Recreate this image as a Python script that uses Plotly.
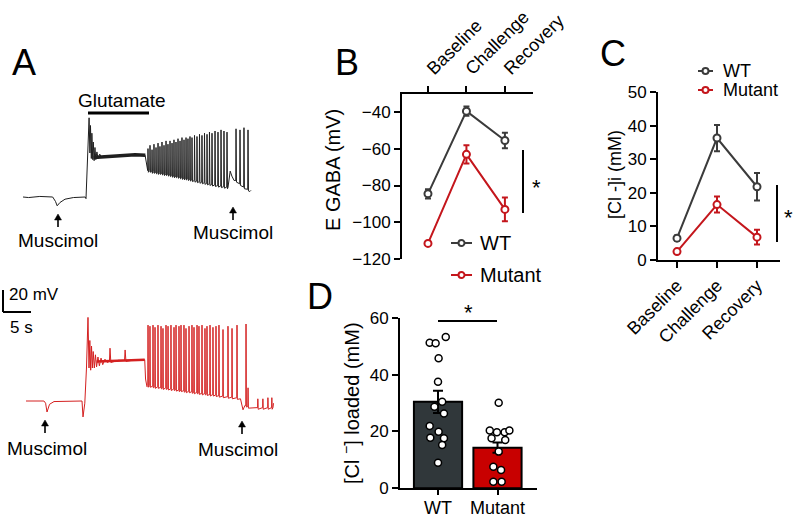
import plotly.graph_objects as go

W, H = 796, 520
FONT = "Liberation Sans, Arial, sans-serif"
WT_COL = "#3b3b3b"
MUT_COL = "#c4161c"
BAR_WT = "#30373a"
BAR_MUT = "#c80000"
TRACE_BLACK = "#1f1f1f"
TRACE_RED = "#d42020"

# ---------------- Panel A: current-clamp recordings (time in s, Vm in mV) ----------------
wt_env_t = [0, 1.0, 3.0, 5.3, 5.8, 6.1, 6.6, 7.5, 9.0, 11.1, 11.25, 11.45, 11.8, 11.95,
            12.05, 12.2, 12.3, 12.45, 12.55, 12.7, 12.85, 13.0, 13.2, 13.4, 13.7, 14.0,
            14.5, 16.0, 18.0, 20.0, 21.8, 22.0, 22.15, 36.6, 37.0, 37.3, 37.7, 40.5, 40.7]
wt_env_v = [-60, -60.5, -59.5, -60, -64, -68, -65, -62, -60.5, -60, -61.5, -40, 12, -20,
            5, -25, -2, -26, -10, -27, -15, -26, -19, -25, -21, -24,
            -22.5, -23, -22, -21.5, -22, -30, -35, -51.5, -36.5, -41, -45, -55, -54]
wt_plateau_t = [12.6, 14.0, 16.0, 18.0, 20.0, 21.85]
wt_plateau_v = [-24, -23.5, -23, -22.5, -21.5, -22]
wt_spike_t = [22.32, 22.68, 23.04, 23.39, 23.75, 24.11, 24.46, 24.82, 25.18, 25.54,
              25.89, 26.25, 26.61, 26.96, 27.32, 27.68, 28.04, 28.39, 28.75, 29.11,
              29.46, 29.82, 30.18, 30.63, 31.07, 31.52, 31.96, 32.41, 32.86, 33.30,
              33.75, 34.29, 34.82, 35.36, 35.89, 36.43, 38.04, 38.75, 39.46, 40.18]
wt_spike_peak = [-16, -13, -17, -12, -15, -11, -14, -10, -13, -9,
                 -12, -9, -11, -8, -10, -7, -9, -6, -8, -6,
                 -7, -5, -6, -4, -5, -3, -4, -2, -3, -1,
                 -2, 0, -1, 1, 0, -1, 2, 1, 3, 1]
wt_spike_base = [-36, -36, -37, -37, -37.5, -38, -38, -38.5, -39, -39,
                 -39.5, -40, -40.5, -41, -41, -41.5, -42, -42.5, -43, -43,
                 -43.5, -44, -44.5, -45, -45.5, -46, -46.5, -47, -47.5, -48,
                 -48.5, -49, -49.5, -50, -50.5, -51, -45, -48, -51, -53]

mut_env_t = [0, 3.2, 3.5, 3.75, 4.2, 5.0, 10.0, 10.18, 10.5, 10.8,
             11.07, 11.25, 11.4, 11.55, 11.7, 11.85, 12.0, 12.2, 12.4, 12.6,
             12.85, 13.1, 13.4, 13.7, 14.1, 14.5, 14.9, 15.0, 15.15, 16.5,
             17.6, 17.7, 17.85, 19.5, 21.2, 21.35, 21.6, 38.3, 38.75, 39.1,
             39.5, 44.1, 44.2]
mut_env_v = [-60, -60, -62, -70, -63, -60.5, -60, -74.5, -62, -30,
             16, -30, -5, -32, -10, -30, -15, -30, -18, -29,
             -20, -28, -21, -27, -22, -25, -24, -12, -25, -23,
             -23, -13.6, -24, -22.5, -22.5, -40, -47, -58, -68, -64,
             -65, -66, -62]
mut_plateau_t = [12.6, 15.2, 17.5, 19.5, 21.2]
mut_plateau_v = [-24, -23.5, -23, -22.5, -22.5]
mut_spike_t = [21.79, 22.14, 22.68, 23.04, 23.57, 24.11, 24.46, 25.00, 25.36, 25.89,
               26.43, 26.79, 27.32, 27.68, 28.21, 28.57, 29.11, 29.64, 30.00, 30.54,
               30.89, 31.43, 31.96, 32.32, 32.86, 33.39, 33.93, 34.46, 35.18, 36.07,
               36.79, 37.68, 39.29, 39.65, 41.4, 42.3, 43.2, 43.9]
mut_spike_peak = [9, 8, 9, 7, 9, 8, 6, 9, 8, 9,
                  7, 9, 8, 9, 9, 6, 8, 9, 7, 9,
                  8, 9, 6, 8, 9, 7, 8, 9, 5, 8,
                  6, 9, 10, -48, -58, -58, -57, -57]
mut_spike_base = [-46, -46, -46.5, -47, -47, -47.5, -48, -48, -48.5, -49,
                  -49, -49.5, -50, -50, -50.5, -51, -51, -51.5, -52, -52,
                  -52.5, -53, -53, -53.5, -54, -54, -54.5, -55, -55.5, -56,
                  -56.5, -57, -64, -65, -66, -66, -66, -66]

# ---------------- Panel B: EGABA ----------------
conditions = ["Baseline", "Challenge", "Recovery"]
egaba_wt = [-84.5, -39.5, -55.5]
egaba_wt_sem = [2.5, 2.5, 4.2]
egaba_mut = [-111.5, -63.0, -93.0]
egaba_mut_sem = [1.0, 5.0, 6.5]

# ---------------- Panel C: [Cl-]i ----------------
cl_wt = [6.5, 36.3, 21.8]
cl_wt_sem = [0.8, 3.9, 4.1]
cl_mut = [2.5, 16.5, 6.8]
cl_mut_sem = [0.6, 2.4, 2.2]

# ---------------- Panel D: loaded [Cl-] ----------------
genotypes = ["WT", "Mutant"]
loaded_mean = [30.4, 14.3]
loaded_sem = [3.9, 1.8]
wt_loaded = [51.2, 51.0, 53.2, 45.7, 37.5, 30.4, 28.7, 26.3, 21.9, 19.9, 17.8, 17.6, 15.2, 9.0]
wt_jitter = [-0.14, -0.04, 0.13, 0.01, 0.0, 0.07, -0.06, 0.10, -0.14, 0.01, -0.13, 0.10, 0.07, 0.0]
mut_loaded = [30.1, 20.3, 19.7, 19.7, 20.3, 17.6, 17.0, 12.9, 7.6, 6.4, 2.3, 2.3]
mut_jitter = [0.02, -0.13, -0.01, 0.12, 0.20, -0.10, 0.13, 0.02, -0.07, 0.06, -0.07, 0.07]

# pixel scale of the traces (20 mV / 5 s scale bar)
PX_PER_S = 5.6
PX_PER_MV = 1.1


def px(x):
    return x / W


def py(y):
    return 1 - y / H


def build_trace(env_t, env_v, spk_t, spk_peak, spk_base, rise=0.05, fall=0.08):
    """Merge the slow envelope with the spikes into one time-ordered trace."""
    pts = list(zip(env_t, env_v))
    for t, peak, base in zip(spk_t, spk_peak, spk_base):
        pts += [(t - rise, base), (t, peak), (t + fall, base - 1.5)]
    pts.sort()
    return [p[0] for p in pts], [p[1] for p in pts]


def trace_axes(x0, x1, y0, y1, base_y):
    """Axis domains/ranges so that the traces keep the scale-bar calibration."""
    xa = dict(domain=[px(x0), px(x1)], range=[0, (x1 - x0) / PX_PER_S], visible=False)
    ya = dict(domain=[py(y1), py(y0)],
              range=[-60 - (y1 - base_y) / PX_PER_MV, -60 + (base_y - y0) / PX_PER_MV],
              visible=False)
    return xa, ya


fig = go.Figure()

# Panel A traces
t, v = build_trace(wt_env_t, wt_env_v, wt_spike_t, wt_spike_peak, wt_spike_base)
fig.add_trace(go.Scatter(x=t, y=v, mode="lines", line=dict(color=TRACE_BLACK, width=1),
                         xaxis="x", yaxis="y", hoverinfo="skip"))
fig.add_trace(go.Scatter(x=wt_plateau_t, y=wt_plateau_v, mode="lines",
                         line=dict(color=TRACE_BLACK, width=3.5),
                         xaxis="x", yaxis="y", hoverinfo="skip"))
t, v = build_trace(mut_env_t, mut_env_v, mut_spike_t, mut_spike_peak, mut_spike_base,
                   rise=0.04, fall=0.06)
fig.add_trace(go.Scatter(x=t, y=v, mode="lines", line=dict(color=TRACE_RED, width=1),
                         xaxis="x2", yaxis="y2", hoverinfo="skip"))
fig.add_trace(go.Scatter(x=mut_plateau_t, y=mut_plateau_v, mode="lines",
                         line=dict(color=TRACE_RED, width=2.5),
                         xaxis="x2", yaxis="y2", hoverinfo="skip"))

cond_x = list(range(len(conditions)))


def line_trace(y, err, color, name, xa, ya):
    return go.Scatter(
        x=cond_x, y=y, name=name, mode="lines+markers",
        line=dict(color=color, width=2),
        marker=dict(symbol="circle", size=7, color="white", line=dict(color=color, width=2)),
        error_y=dict(type="data", array=err, color=color, thickness=2, width=3),
        xaxis=xa, yaxis=ya, hoverinfo="skip",
    )


# Panel B
fig.add_trace(line_trace(egaba_wt, egaba_wt_sem, WT_COL, "WT", "x3", "y3"))
fig.add_trace(line_trace(egaba_mut, egaba_mut_sem, MUT_COL, "Mutant", "x3", "y3"))
# Panel C
fig.add_trace(line_trace(cl_wt, cl_wt_sem, WT_COL, "WT", "x4", "y4"))
fig.add_trace(line_trace(cl_mut, cl_mut_sem, MUT_COL, "Mutant", "x4", "y4"))

# Panel D
geno_x = list(range(len(genotypes)))
fig.add_trace(go.Bar(
    x=geno_x, y=loaded_mean, width=0.81,
    marker=dict(color=[BAR_WT, BAR_MUT], line=dict(color="black", width=2)),
    error_y=dict(type="data", array=loaded_sem, color="black", thickness=2, width=5),
    xaxis="x5", yaxis="y5", hoverinfo="skip",
))
dot_style = dict(size=7, color="white", line=dict(color="black", width=1.5))
fig.add_trace(go.Scatter(x=[geno_x[0] + j for j in wt_jitter], y=wt_loaded, mode="markers",
                         marker=dot_style, xaxis="x5", yaxis="y5", hoverinfo="skip"))
fig.add_trace(go.Scatter(x=[geno_x[1] + j for j in mut_jitter], y=mut_loaded, mode="markers",
                         marker=dot_style, xaxis="x5", yaxis="y5", hoverinfo="skip"))

axis_common = dict(showgrid=False, zeroline=False, showline=True, linecolor="black",
                   linewidth=2, ticks="outside", ticklen=6, tickwidth=2, tickcolor="black",
                   tickfont=dict(size=17, color="black"), automargin=False)

xa1, ya1 = trace_axes(23, 252, 100, 215, 197)
xa2, ya2 = trace_axes(26, 276, 300, 425, 401)


def text(s, x, y, size=19, xanchor="center", **kw):
    return dict(text=s, x=px(x), y=py(y), xref="paper", yref="paper",
                xanchor=xanchor, yanchor="middle",
                showarrow=False, font=dict(size=size, color="black"), **kw)


def seg(x0, y0, x1, y1, width=2, color="black"):
    return dict(type="line", xref="paper", yref="paper", x0=px(x0), y0=py(y0),
                x1=px(x1), y1=py(y1), line=dict(color=color, width=width))


def up_arrow(x, y_head, length=13):
    """Small upward arrow (stem + filled head) in pixel positions."""
    head = "M {} {} L {} {} L {} {} Z".format(
        px(x), py(y_head), px(x - 3.5), py(y_head + 6), px(x + 3.5), py(y_head + 6))
    return [seg(x, y_head + 5, x, y_head + length, 1.6),
            dict(type="path", xref="paper", yref="paper", path=head,
                 fillcolor="black", line=dict(color="black", width=0.5))]


annotations = []
shapes = []

# panel letters
for letter, x, y in [("A", 24, 62), ("B", 347, 62), ("C", 613, 54), ("D", 320, 296)]:
    annotations.append(text(letter, x, y, size=36))

# panel A labels
annotations.append(text("Glutamate", 122, 101))
for x, y in [(58, 240), (233, 233), (47, 448), (238, 449)]:
    annotations.append(text("Muscimol", x, y))
for x, y in [(58, 214), (233, 207), (45, 420), (242, 421)]:
    shapes += up_arrow(x, y)
annotations.append(text("20 mV", 7, 294, size=17, xanchor="left"))
annotations.append(text("5 s", 21, 327, size=17))
shapes += [
    seg(88, 113, 149, 113, 3),                                   # glutamate bar
    seg(3, 312 - 20 * PX_PER_MV, 3, 312),                        # 20 mV
    seg(3, 312, 3 + 5 * PX_PER_S, 312),                          # 5 s
]

# axis titles
annotations.append(text("E GABA (mV)", 333, 170, size=20, textangle=-90))
annotations.append(text("[Cl -]i (mM)", 615, 175, size=18, textangle=-90))
annotations.append(text("[Cl <sup>−</sup>] loaded (mM)", 350, 403, size=20, textangle=-90))

# significance marks
for x, y in [(536, 187), (788, 217), (468, 312)]:
    annotations.append(text("*", x, y, size=22))
shapes += [seg(523, 150, 523, 213), seg(777, 185, 777, 242), seg(438, 321, 497, 321)]

# hand-placed legends for B and C
for label, color, lx0, lx1, ly, tx, size in [
    ("WT", WT_COL, 451, 472, 243, 478, 20),
    ("Mutant", MUT_COL, 451, 472, 275, 478, 20),
    ("WT", WT_COL, 698, 713, 71, 721, 18),
    ("Mutant", MUT_COL, 698, 713, 90, 721, 18),
]:
    shapes.append(seg(lx0, ly, lx1, ly, 2, color))
    cx = (lx0 + lx1) / 2
    shapes.append(dict(type="circle", xref="paper", yref="paper",
                       x0=px(cx - 3), x1=px(cx + 3), y0=py(ly + 3), y1=py(ly - 3),
                       fillcolor="white", line=dict(color=color, width=2)))
    annotations.append(text(label, tx, ly, size=size, xanchor="left"))

fig.update_layout(
    width=W, height=H,
    margin=dict(l=0, r=0, t=0, b=0, pad=0, autoexpand=False),
    paper_bgcolor="white", plot_bgcolor="white",
    font=dict(family=FONT, color="black"),
    showlegend=False,
    xaxis=dict(anchor="y", **xa1), yaxis=dict(anchor="x", **ya1),
    xaxis2=dict(anchor="y2", **xa2), yaxis2=dict(anchor="x2", **ya2),
    xaxis3=dict(domain=[px(402), px(533)], range=[-0.675, 2.73], anchor="y3", side="top",
                tickvals=cond_x, ticktext=conditions, tickangle=-45, **axis_common),
    yaxis3=dict(domain=[py(259), py(93.7)], range=[-120, -30], anchor="x3",
                tickvals=[-120, -100, -80, -60, -40], **axis_common),
    xaxis4=dict(domain=[px(658), px(780)], range=[-0.475, 2.575], anchor="y4",
                tickvals=cond_x, ticktext=conditions, tickangle=-45, **axis_common),
    yaxis4=dict(domain=[py(260), py(92)], range=[0, 50], dtick=10, anchor="x4", **axis_common),
    xaxis5=dict(domain=[px(400), px(537)], range=[-0.639, 1.664], anchor="y5",
                tickvals=geno_x, ticktext=genotypes, **axis_common),
    yaxis5=dict(domain=[py(488.3), py(317.7)], range=[0, 60], dtick=20, anchor="x5",
                **axis_common),
    annotations=annotations,
    shapes=shapes,
)
fig.update_layout(xaxis3_tickfont_size=18, xaxis4_tickfont_size=18,
                  xaxis5_tickfont_size=18, xaxis5_ticklen=5, xaxis5_ticklabelstandoff=-3)

# the page's default body margin would offset the 796x520 figure
fig.write_html("out.html", config={"displayModeBar": False},
               post_script="document.body.style.margin = '0';")
